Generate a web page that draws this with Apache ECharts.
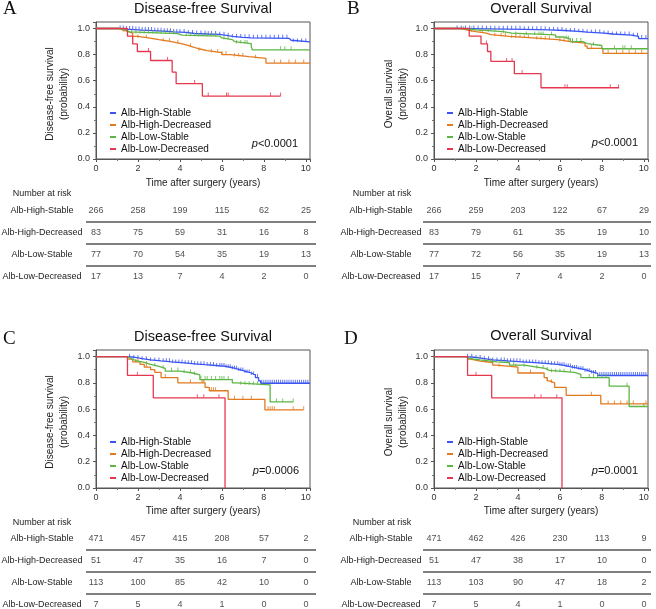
<!DOCTYPE html>
<html><head><meta charset="utf-8">
<script src="https://cdn.jsdelivr.net/npm/echarts@6/dist/echarts.min.js"></script>
<style>html,body{margin:0;padding:0;background:#fff}#c{width:656px;height:609px}</style>
</head><body><div id="c"></div>
<script>
const groups = ['Alb-High-Stable','Alb-High-Decreased','Alb-Low-Stable','Alb-Low-Decreased'];
const colors = ['#3b55f4','#e27a1f','#5cb545','#e5384f'];
const riskTimes = [0,2,4,6,8,10];

// Number at risk tables
const riskA = [[266,258,199,115,62,25],[83,75,59,31,16,8],[77,70,54,35,19,13],[17,13,7,4,2,0]];
const riskB = [[266,259,203,122,67,29],[83,79,61,35,19,10],[77,72,56,35,19,13],[17,15,7,4,2,0]];
const riskC = [[471,457,415,208,57,2],[51,47,35,16,7,0],[113,100,85,42,10,0],[7,5,4,1,0,0]];
const riskD = [[471,462,426,230,113,9],[51,47,38,17,10,0],[113,103,90,47,18,2],[7,5,4,1,0,0]];

// Panel A: Disease-free survival (KM steps [time, survival])
const A_HS = [[0,1],[1.1,0.996],[1.4,0.992],[1.8,0.988],[2.2,0.984],[2.7,0.98],[3.2,0.975],[3.7,0.97],[4.3,0.962],[4.7,0.958],[5.3,0.955],[5.9,0.948],[6.2,0.94],[6.5,0.932],[7.0,0.929],[7.4,0.925],[9.2,0.91],[9.3,0.897],[10.2,0.897]];
const A_HD = [[0,1],[1.1,0.988],[1.3,0.976],[1.55,0.964],[1.75,0.94],[2.0,0.928],[2.5,0.915],[3.0,0.90],[3.6,0.887],[4.0,0.874],[4.3,0.86],[4.6,0.845],[4.9,0.83],[5.3,0.816],[6.0,0.80],[6.4,0.785],[7.3,0.772],[8.1,0.735],[10.2,0.735]];
const A_LS = [[0,1],[1.15,0.987],[1.4,0.974],[1.6,0.961],[3.9,0.95],[4.1,0.941],[5.9,0.928],[6.0,0.915],[6.5,0.9],[6.6,0.885],[7.4,0.862],[7.45,0.837],[10.2,0.837]];
const A_LD = [[0,1],[1.5,0.941],[1.75,0.882],[1.97,0.824],[2.6,0.755],[3.63,0.666],[3.82,0.578],[5.07,0.482],[8.8,0.482]];
const A_HS_cens = [1.15,1.3,1.45,1.6,1.75,1.9,2.05,2.2,2.35,2.5,2.65,2.8,2.95,3.1,3.25,3.4,3.55,3.7,3.85,4.0,4.2,4.4,4.6,4.8,5.0,5.2,5.35,5.5,5.7,5.9,6.1,6.3,6.5,6.7,6.9,7.1,7.3,7.5,7.7,7.9,8.1,8.3,8.5,8.7,8.9,9.1,9.4,9.6,9.8,10.0];
const A_HD_cens = [1.3,2.0,2.4,3.2,3.5,3.9,4.5,4.9,5.5,5.8,6.0,6.2,6.6,6.8,7.0,7.6,8.5,8.8,9.2,9.5,9.9];
const A_LS_cens = [1.5,1.7,1.9,2.1,2.3,2.5,2.7,2.9,3.1,3.3,3.5,3.7,4.3,4.5,4.7,4.9,5.1,5.3,5.5,5.7,6.1,6.3,6.7,6.9,7.1,7.2,8.8,9.0,9.3];
const A_LD_cens = [2.5,3.41,4.7,5.35,6.22,6.3,8.32,8.8];

// Panel B: Overall survival
const B_HS = [[0,1],[1.1,0.997],[2.5,0.994],[4.3,0.99],[5.5,0.985],[6.2,0.978],[6.9,0.972],[7.3,0.965],[8.1,0.958],[8.5,0.95],[9.4,0.94],[9.75,0.923],[10.2,0.923]];
const B_HD = [[0,1],[1.3,0.988],[1.6,0.976],[2.0,0.965],[2.5,0.954],[2.7,0.94],[3.6,0.928],[4.7,0.915],[5.9,0.9],[6.5,0.888],[7.2,0.865],[7.3,0.848],[8.05,0.81],[10.2,0.81]];
const B_LS = [[0,1],[1.2,0.99],[2.0,0.977],[3.3,0.964],[3.7,0.951],[5.8,0.935],[6.2,0.92],[6.5,0.9],[7.1,0.885],[7.3,0.87],[8.0,0.845],[10.2,0.845]];
const B_LD = [[0,1],[1.68,0.941],[2.24,0.882],[2.55,0.824],[2.71,0.748],[3.83,0.655],[5.1,0.546],[8.82,0.546]];
const B_HS_cens = [1.1,1.3,1.5,1.7,1.9,2.1,2.3,2.5,2.7,2.9,3.1,3.3,3.5,3.7,3.9,4.1,4.3,4.5,4.7,4.9,5.1,5.3,5.5,5.7,5.9,6.1,6.3,6.5,6.7,6.9,7.1,7.3,7.5,7.7,7.9,8.1,8.3,8.5,8.7,8.9,9.1,9.3,9.5,9.7,9.9,10.1];
const B_HD_cens = [1.8,2.3,2.9,3.2,3.4,3.7,3.9,4.1,4.3,4.5,4.9,5.1,5.3,5.5,6.0,6.2,6.4,6.6,7.5,8.3,8.7,9.0,9.3,9.6,9.9];
const B_LS_cens = [1.4,1.8,2.2,2.6,2.9,3.3,3.9,4.4,4.8,5.0,5.1,5.2,5.6,6.3,6.4,6.6,6.8,7.0,7.6,8.6,9.0,9.1,9.4];
const B_LD_cens = [2.5,3.46,3.72,4.2,6.24,6.35,8.4,8.8];

// Panel C: Disease-free survival
const C_HS = [[0,1],[1.5,0.995],[1.8,0.985],[2.2,0.975],[2.6,0.967],[3.1,0.96],[3.6,0.952],[4.2,0.945],[4.7,0.938],[5.2,0.932],[5.7,0.925],[6.2,0.915],[6.5,0.903],[6.8,0.89],[7.1,0.875],[7.4,0.86],[7.6,0.84],[7.75,0.815],[7.85,0.797],[10.2,0.797]];
const C_HD = [[0,1],[1.5,0.98],[1.75,0.96],[2.1,0.94],[2.3,0.92],[2.6,0.9],[2.8,0.88],[3.1,0.84],[3.9,0.8],[5.2,0.765],[5.4,0.74],[6.3,0.675],[8.05,0.595],[9.9,0.595]];
const C_LS = [[0,1],[1.5,0.985],[1.65,0.97],[1.9,0.955],[2.3,0.94],[2.6,0.925],[3.0,0.91],[3.3,0.89],[4.0,0.875],[4.6,0.86],[4.95,0.825],[6.5,0.8],[6.7,0.785],[8.3,0.655],[9.4,0.655]];
const C_LD = [[0,1],[1.5,0.857],[2.73,0.686],[6.15,0]];
const C_HS_cens = [1.6,1.8,2.0,2.2,2.4,2.6,2.8,3.0,3.2,3.35,3.5,3.65,3.8,3.95,4.1,4.25,4.4,4.55,4.7,4.85,5.0,5.15,5.3,5.45,5.6,5.75,5.9,6.0,6.1,6.2,6.3,6.4,6.5,6.6,6.7,6.8,6.9,7.0,7.1,7.2,7.3,7.4,7.5,7.6,7.7,7.9,8.0,8.1,8.2,8.3,8.4,8.5,8.6,8.7,8.8,8.9,9.0,9.1,9.2,9.3,9.4,9.5,9.6,9.7,9.8,9.9,10.0,10.1];
const C_HD_cens = [2.0,2.4,3.3,4.5,5.05,5.1,5.15,5.5,5.6,5.7,6.6,7.0,7.4,8.2,8.3,8.4,8.5,9.4,9.9];
const C_LS_cens = [1.9,2.4,2.8,3.2,3.6,3.9,4.2,4.5,4.7,5.0,5.2,5.3,5.5,5.7,5.9,6.0,6.1,6.3,6.9,7.1,7.3,7.5,7.7,8.6,8.9,9.4];
const C_LD_cens = [1.97,4.83,5.14,5.86];

// Panel D: Overall survival
const D_HS = [[0,1],[1.5,0.995],[1.9,0.985],[2.4,0.975],[2.8,0.967],[3.5,0.96],[4.2,0.952],[5.0,0.945],[5.6,0.938],[6.0,0.93],[6.3,0.92],[6.6,0.91],[6.9,0.9],[7.2,0.885],[7.5,0.872],[7.8,0.856],[10.2,0.856]];
const D_HD = [[0,1],[1.6,0.98],[1.75,0.965],[2.2,0.955],[2.8,0.935],[3.0,0.92],[4.0,0.875],[5.25,0.84],[5.4,0.815],[5.5,0.8],[5.75,0.765],[6.3,0.705],[7.95,0.64],[10.2,0.64]];
const D_LS = [[0,1],[1.5,0.985],[1.7,0.975],[2.2,0.96],[3.0,0.955],[3.6,0.935],[4.3,0.92],[4.9,0.91],[5.3,0.895],[5.5,0.88],[6.7,0.865],[7.0,0.84],[8.35,0.775],[9.3,0.62],[10.2,0.62]];
const D_LD = [[0,1],[1.6,0.857],[2.75,0.686],[6.1,0]];
const D_HS_cens = [1.6,1.8,2.0,2.2,2.4,2.6,2.8,3.0,3.2,3.35,3.5,3.65,3.8,3.95,4.1,4.25,4.4,4.55,4.7,4.85,5.0,5.15,5.3,5.45,5.6,5.75,5.9,6.0,6.1,6.2,6.3,6.4,6.5,6.6,6.7,6.8,6.9,7.0,7.1,7.2,7.3,7.4,7.5,7.6,7.7,7.9,8.0,8.1,8.2,8.3,8.4,8.5,8.6,8.7,8.8,8.9,9.0,9.1,9.2,9.3,9.4,9.5,9.6,9.7,9.8,9.9,10.0,10.1];
const D_HD_cens = [2.5,3.1,3.9,4.6,5.4,5.6,7.5,8.3,8.6,8.9,9.2,9.5,10.1];
const D_LS_cens = [1.8,2.1,2.7,3.2,3.8,4.3,4.9,5.2,5.4,5.6,5.8,6.0,6.2,6.5,7.4,7.6,7.8,8.0,8.2,9.2,10.0];
const D_LD_cens = [2.0,4.8,5.1,5.85];

const panels = [
  {curves:[A_HS,A_HD,A_LS,A_LD], cens:[A_HS_cens,A_HD_cens,A_LS_cens,A_LD_cens], risk:riskA,
   title:'Disease-free Survival', letter:'A', yname:'Disease-free survival\n(probability)', p:'<0.0001'},
  {curves:[B_HS,B_HD,B_LS,B_LD], cens:[B_HS_cens,B_HD_cens,B_LS_cens,B_LD_cens], risk:riskB,
   title:'Overall Survival', letter:'B', yname:'Overall survival\n(probability)', p:'<0.0001'},
  {curves:[C_HS,C_HD,C_LS,C_LD], cens:[C_HS_cens,C_HD_cens,C_LS_cens,C_LD_cens], risk:riskC,
   title:'Disease-free Survival', letter:'C', yname:'Disease-free survival\n(probability)', p:'=0.0006'},
  {curves:[D_HS,D_HD,D_LS,D_LD], cens:[D_HS_cens,D_HD_cens,D_LS_cens,D_LD_cens], risk:riskD,
   title:'Overall Survival', letter:'D', yname:'Overall survival\n(probability)', p:'=0.0001'}
];

// layout (pixels)
const L = [
  {plot:{left:96,top:22,width:214,height:137}, table:{left:86,top:200,width:230,height:87,xmin:-0.476,xmax:10.476,lblMargin:44},
   letter:[3,9], title:[203,9], yname:[57,94], p:[298,144], nar:[42,194], legend:[105,102], xgap:19},
  {plot:{left:434,top:22,width:214,height:137}, table:{left:423,top:200,width:228,height:87,xmin:-0.524,xmax:10.333,lblMargin:42},
   letter:[347,9], title:[541,9], yname:[396,94], p:[638,143], nar:[382,194], legend:[442,102], xgap:19},
  {plot:{left:96,top:350,width:214,height:138}, table:{left:86,top:528,width:230,height:87,xmin:-0.476,xmax:10.476,lblMargin:44},
   letter:[3,339], title:[203,337], yname:[57,422], p:[299,471], nar:[42,523], legend:[105,431], xgap:18},
  {plot:{left:434,top:350,width:214,height:138}, table:{left:423,top:528,width:228,height:87,xmin:-0.524,xmax:10.333,lblMargin:42},
   letter:[344,339], title:[541,336], yname:[396,422], p:[638,471], nar:[382,523], legend:[442,431], xgap:18}
];

function sAt(curve, t){ let v = 1; for (const pt of curve){ if (pt[0] <= t) v = pt[1]; else break; } return v; }

const FONT = '"Liberation Sans", Arial, Helvetica, sans-serif';
const grid = [], xAxis = [], yAxis = [], series = [], legend = [], graphic = [];

panels.forEach((P, k) => {
  const l = L[k];
  const gp = 2 * k, gt = 2 * k + 1;   // plot grid/axes index, table grid/axes index
  grid.push(Object.assign({show:true, borderColor:'#555', borderWidth:1, backgroundColor:'transparent', containLabel:false, outerBoundsMode:'none'}, l.plot));
  xAxis.push({type:'value', gridIndex:gp, min:0, max:10.2, interval:2,
    axisLine:{show:true, lineStyle:{color:'#555', width:1}},
    axisTick:{show:true, length:3, lineStyle:{color:'#555'}},
    minorTick:{show:true, splitNumber:2, length:2, lineStyle:{color:'#777'}},
    splitLine:{show:false}, minorSplitLine:{show:false},
    axisLabel:{color:'#333', fontSize:9, fontFamily:FONT, margin:5, showMaxLabel:false},
    name:'Time after surgery (years)', nameLocation:'middle', nameGap:l.xgap,
    nameTextStyle:{color:'#222', fontSize:10, fontFamily:FONT}});
  yAxis.push({type:'value', gridIndex:gp, min:0, max:1.05, interval:0.2,
    axisLine:{show:true, lineStyle:{color:'#555', width:1}},
    axisTick:{show:true, length:3, lineStyle:{color:'#555'}},
    minorTick:{show:true, splitNumber:2, length:2, lineStyle:{color:'#777'}},
    splitLine:{show:false}, minorSplitLine:{show:false},
    axisLabel:{color:'#333', fontSize:9, fontFamily:FONT, margin:6, showMaxLabel:false,
      formatter: v => v.toFixed(1)}});

  const t = l.table;
  grid.push({left:t.left, top:t.top, width:t.width, height:t.height, show:false, containLabel:false, outerBoundsMode:'none'});
  xAxis.push({type:'value', gridIndex:gt, min:t.xmin, max:t.xmax, show:false});
  yAxis.push({type:'value', gridIndex:gt, min:0, max:4, interval:0.5,
    axisLine:{show:false}, axisTick:{show:false}, splitLine:{show:false},
    axisLabel:{show:true, align:'center', margin:t.lblMargin, color:'#222', fontSize:9, fontFamily:FONT,
      showMinLabel:true, showMaxLabel:true, hideOverlap:false,
      formatter: v => { const i = 3.5 - v; return Number.isInteger(i) && i >= 0 && i <= 3 ? groups[i] : ''; }}});

  P.curves.forEach((c, g) => {
    series.push({type:'line', name:groups[g], xAxisIndex:gp, yAxisIndex:gp, data:c, step:'end',
      showSymbol:false, symbol:'none', silent:true, animation:false, z:3 + g,
      lineStyle:{color:colors[g], width:1.3}, itemStyle:{color:colors[g]}});
    series.push({type:'scatter', name:groups[g], xAxisIndex:gp, yAxisIndex:gp, silent:true, animation:false,
      data:P.cens[g].map(tt => [tt, sAt(c, tt)]), symbol:'rect', symbolSize:[1,3.5], symbolOffset:[0,-1.75],
      itemStyle:{color:colors[g]}, z:3});
  });
  legend.push({data:groups, orient:'vertical', left:l.legend[0], top:l.legend[1], itemGap:0,
    icon:'rect', itemWidth:6, itemHeight:2, selectedMode:false, padding:5,
    textStyle:{color:'#111', fontSize:10, lineHeight:12, fontFamily:FONT}});

  const cells = [];
  P.risk.forEach((row, i) => row.forEach((n, j) => cells.push([riskTimes[j], 3.5 - i, n])));
  series.push({type:'scatter', xAxisIndex:gt, yAxisIndex:gt, data:cells, symbolSize:1, silent:true, animation:false,
    itemStyle:{color:'rgba(0,0,0,0)'},
    label:{show:true, position:'inside', color:'#222', fontSize:9, fontFamily:FONT, formatter: p => String(p.value[2])},
    markLine:{silent:true, symbol:'none', animation:false, label:{show:false},
      lineStyle:{color:'#555', width:1.5, type:'solid'}, data:[{yAxis:1},{yAxis:2},{yAxis:3}]}});

  graphic.push({type:'text', x:l.letter[0], y:l.letter[1], style:{text:P.letter, font:'19px "Liberation Serif", "Times New Roman", serif', fill:'#111', textAlign:'left', textVerticalAlign:'middle'}});
  graphic.push({type:'text', x:l.title[0], y:l.title[1], style:{text:P.title, font:'14.5px ' + FONT, fill:'#111', textAlign:'center', textVerticalAlign:'middle'}});
  graphic.push({type:'text', x:l.yname[0], y:l.yname[1], rotation:Math.PI/2,
    style:{text:P.yname, font:'10px ' + FONT, fill:'#222', textAlign:'center', textVerticalAlign:'middle', lineHeight:14}});
  graphic.push({type:'text', x:l.p[0], y:l.p[1], style:{text:'{i|p}' + P.p, font:'11px ' + FONT, fill:'#111', textAlign:'right', textVerticalAlign:'middle',
    rich:{i:{fontStyle:'italic', fontSize:11, fontFamily:FONT, fill:'#111'}}}});
  graphic.push({type:'text', x:l.nar[0], y:l.nar[1], style:{text:'Number at risk', font:'9px ' + FONT, fill:'#222', textAlign:'center', textVerticalAlign:'middle'}});
});

const chart = echarts.init(document.getElementById('c'), null, {renderer:'canvas'});
chart.setOption({backgroundColor:'#fff', animation:false, grid, xAxis, yAxis, series, legend, graphic});
</script></body></html>
